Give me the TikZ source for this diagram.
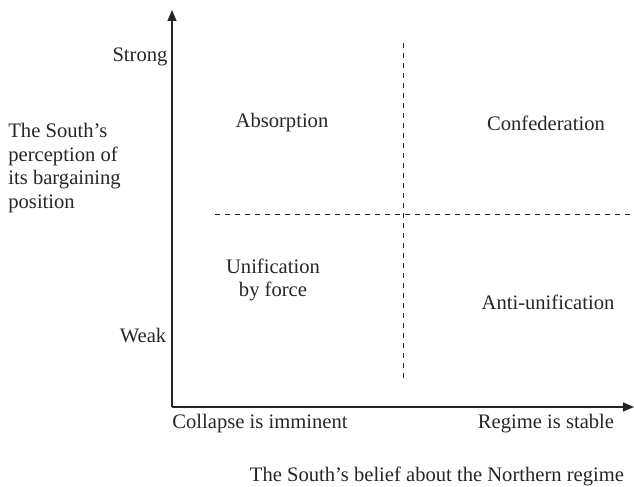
\documentclass[tikz,border=0pt]{standalone}
\usepackage{fontspec}
\setmainfont{Liberation Serif}
\usetikzlibrary{arrows.meta}

\tikzset{
  axis/.style={line width=0.75pt, black!85, -{Triangle[width=4.5pt,length=5.5pt]}},
  divider/.style={line width=0.5pt, black!85, dash pattern=on 2.5pt off 2.5pt},
  lbl/.style={inner sep=0pt, text=black!85, font=\fontsize{10.3}{11.75}\selectfont},
}

\begin{document}
\begin{tikzpicture}[x=0.5pt, y=-0.5pt]
        \useasboundingbox (0,0) rectangle (634,487);

        % axes
        \coordinate (origin) at (172,407);
        \coordinate (ytop) at (172,10);
        \coordinate (xend) at (634,407);
        \draw [axis] (origin) -- (ytop);
        \draw [axis] (origin) -- (xend);

        % quadrant dividers
        \coordinate (vtop) at (404,43);
        \coordinate (vbot) at (404,381);
        \coordinate (hleft) at (215,215);
        \coordinate (hright) at (634,215);
        \draw [divider] (vtop) -- (vbot);
        \draw [divider] (hleft) -- (hright);

        % vertical axis labels
        \node [lbl] (strong) at (140,57) {Strong};
        \node [lbl] (weak) at (143,336) {Weak};
        \node [lbl, anchor=west, align=left] (ylabel) at (8,168)
              {The South's\\perception of\\its bargaining\\position};

        % quadrants
        \node [lbl] (absorption) at (282,123) {Absorption};
        \node [lbl] (confed) at (546,123) {Confederation};
        \node [lbl, align=center] (force) at (273,280) {Unification\\by force};
        \node [lbl] (antiunif) at (548,302) {Anti-unification};

        % horizontal axis labels
        \node [lbl] (collapse) at (260,424) {Collapse is imminent};
        \node [lbl] (stable) at (546,424) {Regime is stable};
        \node [lbl] (xlabel) at (437,476) {The South's belief about the Northern regime};
\end{tikzpicture}
\end{document}
